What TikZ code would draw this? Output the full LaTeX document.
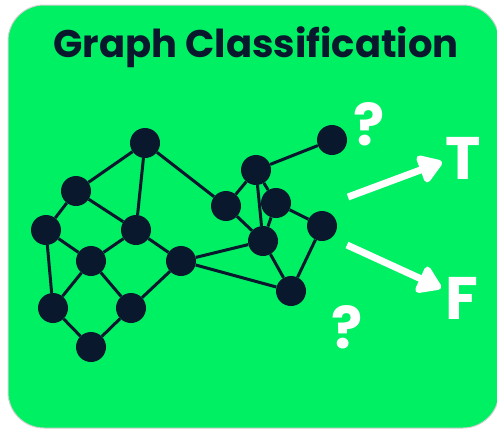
\documentclass[tikz,border=0pt]{standalone}
\usepackage{fontspec}
\setmainfont{Poppins}
\usetikzlibrary{arrows.meta}
\definecolor{bg}{RGB}{0,240,100}
\definecolor{navy}{RGB}{10,24,46}
\tikzset{
  vert/.style={circle,fill=navy,minimum size=30pt,inner sep=0pt},
  edge/.style={draw=navy,line width=3pt},
  wtxt/.style={text=white,font=\fontsize{60}{60}\selectfont\bfseries,inner sep=0pt},
  qtxt/.style={text=white,font=\fontsize{58}{58}\selectfont\bfseries,inner sep=0pt},
  warrow/.style={draw=white,line width=7pt,-{Triangle[length=26pt,width=32pt,round]}}
}
\begin{document}
\begin{tikzpicture}[x=1pt,y=-1pt]
\useasboundingbox (0,0) rectangle (497,429);
\fill[white] (0,0) rectangle (497,429);
\draw[gray!35,line width=1pt,fill=bg,rounded corners=36pt] (8,5) rectangle (499,428);
\node[text=navy,font=\fontsize{38.5}{38.5}\selectfont\bfseries] (title) at (256,47) {Graph Classification};
% vertices
\node[vert] (A) at (145,143) {};
\node[vert] (B) at (76,191) {};
\node[vert] (C) at (46,230) {};
\node[vert] (D) at (136,230) {};
\node[vert] (E) at (91,261) {};
\node[vert] (F) at (181,261) {};
\node[vert] (G) at (53,308) {};
\node[vert] (H) at (131,308) {};
\node[vert] (I) at (91,347) {};
\node[vert] (J) at (332,140) {};
\node[vert] (K) at (256,170) {};
\node[vert] (L) at (226,206) {};
\node[vert] (M) at (276,203) {};
\node[vert] (N) at (322,226) {};
\node[vert] (O) at (263,241) {};
\node[vert] (P) at (291,291) {};
\path[edge] (A)--(B) (A)--(D) (A)--(L) (B)--(C) (B)--(D) (C)--(E) (C)--(G)
  (D)--(E) (D)--(F) (E)--(G) (E)--(H) (G)--(I) (H)--(I) (H)--(F) (F)--(O) (F)--(P)
  (L)--(K) (L)--(O) (K)--(J) (K)--(O) (K)--(M) (M)--(O) (M)--(N) (N)--(P) (O)--(P);
% labels
\node[qtxt] (q1) at (369,124) {?};
\node[qtxt] (q2) at (347,327) {?};
\node[wtxt] (T) at (463,158) {T};
\node[wtxt] (Fl) at (462,298) {F};
\coordinate (a1s) at (348,197);
\coordinate (a1e) at (442,162);
\coordinate (a2s) at (347,245);
\coordinate (a2e) at (441,288);
\draw[warrow] (a1s) -- (a1e);
\draw[warrow] (a2s) -- (a2e);
\end{tikzpicture}
\end{document}
